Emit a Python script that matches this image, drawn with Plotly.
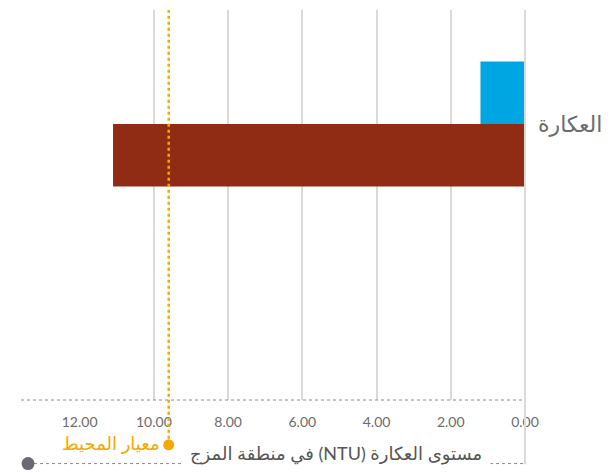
import plotly.graph_objects as go

# بيانات المخطط
category = ["العكارة"]
series_blue = [1.2]
series_red = [11.1]
standard_value = 9.6          # معيار المحيط
label_ticks = [0, 2, 4, 6, 8, 10, 12]
grid_ticks = [0, 2, 4, 6, 8, 10]

FONT = "Lato, DejaVu Sans, sans-serif"
GREY_TXT = "#6b6b6b"
ORANGE = "#f5a800"

fig = go.Figure()
# الشريط الأحمر أولاً حتى يأتي في الأسفل داخل المجموعة
fig.add_trace(go.Bar(y=category, x=series_red, orientation="h",
                     marker=dict(color="#912c14", line=dict(width=0))))
fig.add_trace(go.Bar(y=category, x=series_blue, orientation="h",
                     marker=dict(color="#00a6e2", line=dict(width=0))))

# خط المعيار
fig.add_shape(type="line", xref="x", yref="paper", x0=standard_value, x1=standard_value,
              y0=-0.115, y1=1.0, line=dict(color=ORANGE, width=2.5, dash="dot"))
fig.add_shape(type="circle", xref="x", yref="paper", xsizemode="pixel", ysizemode="pixel",
              xanchor=standard_value, yanchor=-0.115, x0=-5.5, x1=5.5, y0=-5.5, y1=5.5,
              fillcolor=ORANGE, line=dict(width=0))
fig.add_annotation(x=standard_value, y=-0.143, xref="x", yref="paper", text="معيار المحيط",
                   showarrow=False, xanchor="right", xshift=-7,
                   font=dict(family=FONT, size=18, color=ORANGE))

# خط المحور المنقط
fig.add_shape(type="line", xref="paper", yref="paper", x0=0, x1=1, y0=0, y1=0,
              line=dict(color="#8a8a8a", width=1, dash="dot"))
# الخط السفلي والنقطة الرمادية
fig.add_shape(type="line", xref="paper", yref="paper", x0=0.014, x1=1, y0=-0.163, y1=-0.163,
              line=dict(color="#8a8a8a", width=1, dash="dot"))
fig.add_shape(type="circle", xref="paper", yref="paper", xsizemode="pixel", ysizemode="pixel",
              xanchor=0.014, yanchor=-0.163, x0=-6.5, x1=6.5, y0=-6.5, y1=6.5,
              fillcolor="#676a72", line=dict(width=0))
fig.add_shape(type="line", xref="paper", yref="paper", x0=1, x1=1, y0=-0.165, y1=1,
              line=dict(color="#d9d9d9", width=2))

fig.add_annotation(x=0.625, y=-0.19, xref="paper", yref="paper",
                   text="\u202bمستوى العكارة (NTU) في منطقة المزج\u202c",
                   showarrow=False, bgcolor="white", borderpad=8,
                   font=dict(family=FONT, size=18, color="#555555"))

fig.update_layout(
    width=603, height=465,
    margin=dict(l=13, r=86, t=2, b=73),
    plot_bgcolor="white", paper_bgcolor="white",
    barmode="group", bargap=0.2, bargroupgap=0,
    showlegend=False,
    font=dict(family=FONT),
    xaxis=dict(range=[13.58, 0], tickvals=label_ticks, tickformat=".2f",
               showgrid=False, zeroline=False, showline=False,
               ticklabelstandoff=12, tickfont=dict(size=14, color=GREY_TXT),
               minor=dict(tickvals=grid_ticks, showgrid=True, gridcolor="#d9d9d9", gridwidth=2, ticks="")),
    yaxis=dict(side="right", range=[-1.766, 0.73], showgrid=False, zeroline=False,
               showline=False, ticklabelstandoff=12,
               tickfont=dict(size=22, color=GREY_TXT)),
)

fig.write_html("out.html")
